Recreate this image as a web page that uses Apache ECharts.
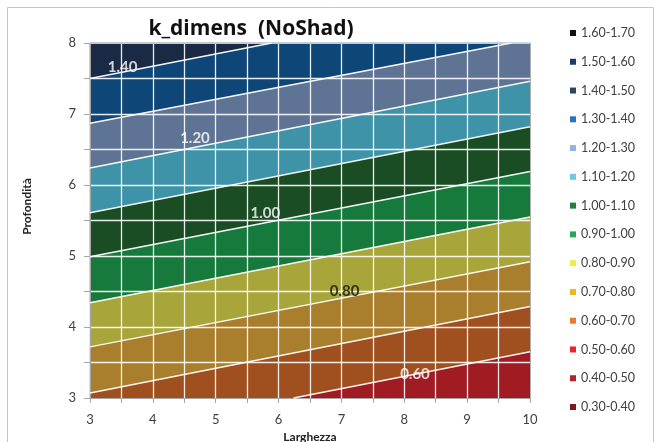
<!DOCTYPE html>
<html><head><meta charset="utf-8">
<script src="https://cdn.jsdelivr.net/npm/echarts@6/dist/echarts.min.js"></script>
<style>html,body{margin:0;padding:0;background:#fff}#c{width:661px;height:442px}</style>
</head><body><div id="c"></div>
<script>
// ---- data ----
const xTicks = [3, 4, 5, 6, 7, 8, 9, 10];
const yTicks = [3, 4, 5, 6, 7, 8];
const bandNames = ['1.60-1.70','1.50-1.60','1.40-1.50','1.30-1.40','1.20-1.30','1.10-1.20','1.00-1.10',
                   '0.90-1.00','0.80-0.90','0.70-0.80','0.60-0.70','0.50-0.60','0.40-0.50','0.30-0.40'];
const bandLow  = [1.6, 1.5, 1.4, 1.3, 1.2, 1.1, 1.0, 0.9, 0.8, 0.7, 0.6, 0.5, 0.4, 0.3];
const bandHigh = [1.7, 1.6, 1.5, 1.4, 1.3, 1.2, 1.1, 1.0, 0.9, 0.8, 0.7, 0.6, 0.5, 0.4];
// contour lines: level, depth where it meets Larghezza=3 and Larghezza=10
const contourLevels = [0.60, 0.70, 0.80, 0.90, 1.00, 1.10, 1.20, 1.30, 1.40];
const contourYatX3  = [2.44, 3.07, 3.72, 4.34, 4.99, 5.61, 6.24, 6.87, 7.50];
const contourYatX10 = [3.65, 4.29, 4.92, 5.55, 6.19, 6.82, 7.46, 8.05, 8.71];
const contourLabels = ['1.40', '1.20', '1.00', '0.80', '0.60'];
const contourLabelX = [3.52, 4.67, 5.79, 7.05, 8.17];
const contourLabelY = [7.66, 6.66, 5.61, 4.51, 3.34];

// ---- styles ----
const plotColors = ['#111111','#15335c','#1b2a44','#0f4678','#5f7494','#3e93a8','#1a4d24',
                    '#167a3c','#a8a63a','#a97e2c','#a0501f','#a01b22','#8a1a20','#6a1418'];
const legendColors = ['#111111','#1b3a66','#2c4766','#2a74bd','#91b3dd','#6ccbe0','#1f7d3e',
                      '#27aa4d','#eded4e','#f4b428','#ea7a2a','#e8262b','#b3222a','#7a1a1e'];
const labelColors = ['#ffffff','#ffffff','#ffffff','#111111','#ffffff'];
const FONT = 'Lato';

const X0 = xTicks[0], X1 = xTicks[xTicks.length-1], Y0 = yTicks[0], Y1 = yTicks[yTicks.length-1];

function lineY(i, X) {
  return contourYatX3[i] + (contourYatX10[i] - contourYatX3[i]) * (X - X0) / (X1 - X0);
}
function boundaryY(level, X) {
  const i = contourLevels.findIndex(l => Math.abs(l - level) < 1e-6);
  if (i >= 0) return lineY(i, X);
  if (level < contourLevels[0]) return -1000;
  return 1000;
}
function clipPolygon(pts) {
  const planes = [[0, X0, 1], [0, X1, -1], [1, Y0, 1], [1, Y1, -1]];
  for (const [ax, val, sg] of planes) {
    if (!pts.length) break;
    const inside = p => sg * (p[ax] - val) >= -1e-9;
    const cut = (a, b) => { const t = (val - a[ax]) / (b[ax] - a[ax]); return [a[0] + t*(b[0]-a[0]), a[1] + t*(b[1]-a[1])]; };
    const out = [];
    for (let k = 0; k < pts.length; k++) {
      const cur = pts[k], prev = pts[(k + pts.length - 1) % pts.length];
      const ci = inside(cur), pi = inside(prev);
      if (ci) { if (!pi) out.push(cut(prev, cur)); out.push(cur); }
      else if (pi) out.push(cut(prev, cur));
    }
    pts = out;
  }
  return pts;
}
function clipSeg(a, b) {
  let t0 = 0, t1 = 1;
  const dx = b[0]-a[0], dy = b[1]-a[1];
  const p = [-dx, dx, -dy, dy], q = [a[0]-X0, X1-a[0], a[1]-Y0, Y1-a[1]];
  for (let i = 0; i < 4; i++) {
    if (p[i] === 0) { if (q[i] < 0) return null; }
    else {
      const r = q[i] / p[i];
      if (p[i] < 0) { if (r > t1) return null; if (r > t0) t0 = r; }
      else { if (r < t0) return null; if (r < t1) t1 = r; }
    }
  }
  return [[a[0]+t0*dx, a[1]+t0*dy], [a[0]+t1*dx, a[1]+t1*dy]];
}

const bandSeries = bandNames.map((name, i) => ({
  name: name,
  type: 'custom',
  coordinateSystem: 'cartesian2d',
  silent: true,
  z: 2,
  itemStyle: { color: plotColors[i] },
  data: [[bandLow[i], bandHigh[i]]],
  renderItem: (params, api) => {
    const lo = bandLow[i], hi = bandHigh[i];
    const poly = clipPolygon([[X0, boundaryY(lo, X0)], [X1, boundaryY(lo, X1)], [X1, boundaryY(hi, X1)], [X0, boundaryY(hi, X0)]]);
    if (poly.length < 3) return null;
    return { type: 'polygon', shape: { points: poly.map(p => api.coord(p)) },
             style: { fill: plotColors[i], stroke: plotColors[i], lineWidth: 0.5 } };
  }
}));

const lineSeries = {
  name: 'contours', type: 'custom', coordinateSystem: 'cartesian2d', silent: true, z: 4,
  data: contourLevels.map((l, i) => [i, l]),
  renderItem: (params, api) => {
    const i = params.dataIndex;
    const seg = clipSeg([X0, contourYatX3[i]], [X1, contourYatX10[i]]);
    if (!seg) return null;
    return { type: 'polyline', shape: { points: seg.map(p => api.coord(p)) },
             style: { stroke: 'rgba(255,255,255,0.95)', lineWidth: 1.5, fill: null } };
  }
};

const labelSeries = {
  name: 'labels', type: 'scatter', silent: true, z: 10, symbolSize: 0,
  data: contourLabels.map((t, i) => ({ name: t, value: [contourLabelX[i], contourLabelY[i]],
                                       label: { color: labelColors[i] } })),
  label: { show: true, position: 'inside', formatter: p => p.name,
           fontWeight: 'bold', fontSize: 15, fontFamily: FONT }
};

const chart = echarts.init(document.getElementById('c'), null, { renderer: 'canvas' });
chart.setOption({
  animation: false,
  backgroundColor: '#ffffff',
  textStyle: { fontFamily: FONT },
  graphic: [{ type: 'rect', silent: true, z: -10,
              shape: { x: 7.5, y: 7.5, width: 646, height: 450 },
              style: { fill: null, stroke: '#c4c4c4', lineWidth: 1 } }],
  title: { text: 'k_dimens  (NoShad)', left: 246, textAlign: 'center', top: 14,
           textStyle: { fontSize: 21, fontWeight: 'bold', color: '#111', fontFamily: 'Open Sans' } },
  legend: {
    orient: 'vertical', left: 565, top: 21, itemWidth: 6, itemHeight: 6, itemGap: 14.77,
    icon: 'rect', selectedMode: false,
    textStyle: { fontSize: 12.5, color: '#404040', lineHeight: 14, fontFamily: FONT },
    data: bandNames.map((n, i) => ({ name: n, itemStyle: { color: legendColors[i] } }))
  },
  grid: { left: 90, right: 131, top: 43, bottom: 44, containLabel: false, outerBoundsMode: 'none' },
  xAxis: [{
    type: 'value', min: X0, max: X1, interval: 0.5, z: 3,
    axisLine: { show: true, lineStyle: { color: '#a6a6a6' } },
    axisTick: { show: true, length: 5, lineStyle: { color: '#a6a6a6' } },
    axisLabel: { formatter: v => xTicks.includes(v) ? String(v) : '', margin: 15, fontSize: 13, color: '#404040' },
    splitLine: { show: true, showMinLine: false, showMaxLine: false, lineStyle: { color: 'rgba(255,255,255,0.9)', width: 1.3 } },
    name: 'Larghezza', nameLocation: 'middle', nameGap: 27,
    nameTextStyle: { fontWeight: 'bold', fontSize: 12, color: '#222' }
  }, {
    type: 'value', position: 'top', min: X0, max: X1, z: 3,
    axisLine: { show: true, lineStyle: { color: '#c8c8c8' } },
    axisTick: { show: false }, axisLabel: { show: false }, splitLine: { show: false }
  }],
  yAxis: [{
    type: 'value', min: Y0, max: Y1, interval: 0.5, z: 3,
    axisLine: { show: true, lineStyle: { color: '#a6a6a6' } },
    axisTick: { show: true, length: 6, lineStyle: { color: '#a6a6a6' } },
    axisLabel: { formatter: v => yTicks.includes(v) ? String(v) : '', margin: 14, fontSize: 13, color: '#404040' },
    splitLine: { show: true, showMinLine: false, showMaxLine: false, lineStyle: { color: 'rgba(255,255,255,0.9)', width: 1.3 } },
    name: 'Profondità', nameLocation: 'middle', nameGap: 57, nameRotate: 90,
    nameTextStyle: { fontWeight: 'bold', fontSize: 12, color: '#222', padding: [0, 0, 0, 28] }
  }, {
    type: 'value', position: 'right', min: Y0, max: Y1, z: 3,
    axisLine: { show: true, lineStyle: { color: '#b0b0b0' } },
    axisTick: { show: false }, axisLabel: { show: false }, splitLine: { show: false }
  }],
  series: [...bandSeries, lineSeries, labelSeries]
});
</script></body></html>
